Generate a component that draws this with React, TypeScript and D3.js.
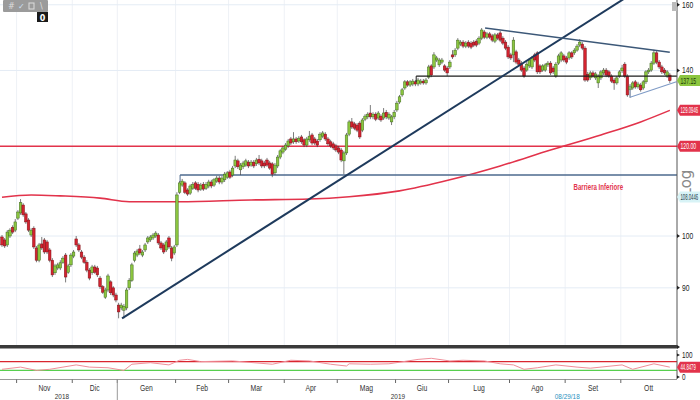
import React from 'react';
import * as d3 from 'd3';

const opens = [
  99.8, 99.2, 98.2, 100.0, 101.8, 101.2, 103.7, 104.8, 106.5, 104.6,
  103.3, 100.2, 101.6, 97.6, 95.2, 98.4, 99.2, 98.8, 97.2, 95.2,
  92.8, 93.7, 93.7, 94.8, 96.2, 92.9, 94.3, 96.0, 99.4, 98.2,
  96.8, 95.8, 94.8, 93.3, 92.8, 93.9, 93.7, 91.8, 90.2, 88.3,
  89.6, 91.1, 90.0, 88.7, 86.9, 86.4, 86.0, 86.4, 90.0, 91.4,
  95.2, 96.2, 97.4, 96.2, 97.2, 98.8, 99.2, 99.6, 100.0, 100.2,
  98.6, 98.2, 97.2, 99.6, 97.6, 96.6, 98.2, 109.3, 110.9, 111.4,
  109.8, 109.1, 110.2, 111.4, 111.1, 110.0, 111.1, 110.2, 110.7, 111.6,
  110.9, 111.8, 112.5, 111.6, 112.1, 112.7, 113.9, 113.2, 115.3, 116.5,
  114.4, 115.1, 115.5, 116.2, 115.5, 116.2, 115.8, 116.9, 116.5, 116.0,
  116.7, 116.0, 115.8, 113.7, 115.3, 117.4, 118.6, 119.3, 120.1, 121.8,
  121.1, 121.8, 121.3, 122.3, 121.6, 120.3, 121.6, 122.8, 121.8, 121.3,
  121.6, 122.5, 123.0, 121.8, 121.1, 120.6, 120.1, 119.6, 119.1, 116.5,
  118.4, 123.0, 126.1, 125.6, 125.3, 125.8, 124.0, 126.8, 127.4, 128.4,
  127.4, 128.1, 127.1, 127.6, 127.1, 128.6, 127.1, 126.1, 127.4, 129.2,
  131.3, 133.2, 135.1, 136.8, 135.9, 136.2, 136.8, 136.2, 136.5, 137.0,
  136.5, 138.1, 141.3, 141.0, 143.0, 141.6, 142.4, 141.3, 140.7, 141.0,
  144.5, 144.5, 146.5, 147.7, 148.3, 147.1, 148.3, 148.0, 148.3, 148.6,
  148.0, 149.5, 151.4, 149.8, 150.8, 150.2, 148.6, 150.5, 151.1, 149.5,
  148.3, 146.8, 144.5, 144.5, 145.4, 143.0, 142.1, 140.7, 140.1, 141.3,
  141.0, 144.5, 145.1, 141.3, 140.1, 140.1, 141.6, 142.1, 140.7, 138.4,
  142.1, 143.0, 144.2, 143.6, 143.6, 145.1, 145.1, 145.9, 147.4, 147.7,
  146.5, 138.9, 137.9, 139.3, 137.9, 136.5, 137.9, 139.3, 140.1, 139.6,
  138.4, 137.3, 136.5, 138.4, 139.9, 141.8, 138.4, 134.6, 135.1, 136.8,
  135.4, 135.9, 135.1, 136.8, 139.6, 140.1, 142.1, 145.1, 142.4, 141.0,
  140.1, 138.4, 138.7,
];

const closes = [
  98.2, 98.0, 100.8, 101.2, 100.8, 102.9, 105.0, 107.0, 104.4, 102.9,
  101.2, 101.2, 97.8, 95.2, 98.2, 97.6, 96.8, 96.8, 95.2, 92.4,
  94.1, 94.3, 94.7, 95.6, 92.0, 94.1, 96.2, 96.8, 98.2, 97.2,
  95.8, 94.8, 93.3, 91.8, 93.9, 92.9, 92.4, 90.2, 89.2, 89.6,
  92.2, 89.1, 88.7, 87.8, 85.7, 86.9, 86.7, 89.6, 91.4, 94.3,
  96.6, 97.0, 96.6, 96.8, 98.2, 99.6, 99.8, 100.2, 100.6, 98.6,
  97.6, 96.8, 98.8, 97.8, 95.6, 97.8, 108.7, 111.4, 111.8, 109.3,
  108.9, 110.7, 111.1, 110.2, 109.8, 110.9, 110.0, 111.1, 111.6, 110.7,
  112.1, 112.5, 111.6, 112.5, 113.4, 113.7, 112.7, 114.8, 116.7, 115.1,
  115.5, 116.0, 116.5, 115.3, 116.2, 115.3, 116.7, 116.0, 115.3, 115.3,
  115.5, 114.8, 113.4, 115.5, 117.4, 118.9, 119.6, 120.3, 121.3, 120.8,
  121.8, 121.1, 122.0, 121.1, 120.3, 121.8, 122.5, 120.8, 120.8, 120.3,
  123.0, 123.3, 121.8, 120.6, 120.1, 119.6, 119.1, 118.6, 116.7, 118.4,
  122.8, 126.1, 124.8, 124.5, 124.0, 122.3, 126.6, 127.6, 128.1, 127.4,
  128.1, 126.8, 128.4, 126.6, 128.4, 127.4, 128.1, 127.4, 128.6, 131.0,
  132.7, 134.6, 136.8, 135.9, 136.8, 137.0, 136.2, 137.3, 137.0, 136.5,
  137.3, 141.0, 138.7, 144.5, 143.6, 143.0, 143.0, 140.1, 139.3, 142.4,
  143.9, 145.9, 148.9, 148.3, 147.1, 148.0, 147.1, 146.8, 147.4, 147.4,
  149.5, 152.0, 149.8, 150.8, 149.8, 148.9, 150.5, 149.5, 148.9, 148.0,
  146.5, 143.9, 143.6, 148.9, 142.4, 141.8, 140.1, 138.4, 141.8, 143.0,
  143.6, 143.0, 139.6, 139.6, 141.3, 141.6, 142.1, 139.3, 139.6, 141.8,
  144.2, 145.1, 143.0, 142.4, 145.1, 143.9, 145.9, 147.1, 148.3, 146.5,
  137.3, 137.3, 139.3, 138.4, 139.0, 138.4, 139.6, 140.1, 138.7, 138.4,
  137.0, 136.5, 137.9, 139.6, 140.7, 138.4, 133.2, 135.6, 136.5, 135.4,
  136.2, 134.6, 136.8, 139.6, 140.1, 142.1, 145.1, 142.4, 141.0, 139.6,
  139.3, 139.6, 137.15,
];

const highs = [
  100.2, 99.6, 101.2, 101.6, 102.2, 103.5, 105.4, 107.8, 106.9, 105.0,
  103.7, 101.6, 102.0, 98.0, 98.6, 99.8, 99.6, 99.2, 97.6, 95.6,
  94.5, 94.7, 95.2, 96.0, 96.6, 94.5, 96.6, 97.2, 100.0, 98.6,
  97.2, 96.2, 95.2, 93.7, 94.3, 94.3, 94.1, 92.2, 90.5, 90.0,
  92.6, 91.4, 90.3, 89.1, 87.3, 87.3, 87.1, 90.0, 91.8, 94.7,
  97.0, 97.4, 98.2, 97.2, 98.6, 100.0, 100.2, 100.6, 101.0, 100.6,
  99.0, 98.6, 99.2, 100.0, 98.0, 98.2, 109.3, 111.8, 112.3, 111.8,
  110.2, 111.1, 111.6, 111.8, 111.6, 111.4, 111.6, 111.6, 112.1, 112.1,
  112.5, 113.0, 113.0, 113.0, 113.9, 114.1, 114.4, 115.3, 117.7, 117.0,
  116.0, 116.5, 117.0, 116.7, 116.7, 116.7, 117.2, 117.9, 117.0, 116.5,
  117.2, 116.5, 116.2, 116.0, 117.9, 119.3, 120.1, 120.8, 121.8, 122.3,
  123.5, 122.3, 122.5, 122.8, 122.0, 122.3, 123.8, 123.3, 122.3, 121.8,
  123.5, 123.8, 123.5, 122.3, 121.6, 121.1, 120.6, 120.1, 119.6, 118.9,
  123.3, 126.6, 127.1, 126.1, 125.8, 126.3, 127.1, 128.1, 128.6, 130.5,
  128.6, 128.6, 128.9, 128.1, 129.7, 129.2, 128.6, 127.9, 129.2, 131.6,
  133.2, 135.1, 137.3, 137.3, 137.3, 137.6, 137.3, 137.9, 137.6, 137.6,
  137.9, 141.6, 141.8, 145.3, 144.2, 143.6, 143.6, 141.8, 141.3, 143.0,
  145.9, 146.5, 149.5, 148.9, 148.9, 148.6, 148.9, 148.6, 148.9, 149.2,
  150.1, 152.6, 152.0, 151.4, 151.4, 150.8, 151.1, 151.1, 151.7, 150.1,
  148.9, 147.4, 145.1, 149.8, 146.0, 143.6, 142.7, 141.3, 142.4, 143.6,
  144.2, 145.1, 145.6, 141.8, 141.8, 142.1, 142.7, 142.7, 141.3, 142.4,
  144.8, 145.6, 144.8, 144.2, 145.6, 145.6, 146.5, 147.7, 149.2, 148.3,
  147.1, 139.6, 139.9, 139.9, 139.6, 138.9, 140.1, 140.7, 140.7, 140.1,
  138.9, 137.9, 138.4, 140.1, 141.6, 142.4, 138.9, 136.2, 137.0, 137.3,
  136.8, 136.5, 137.3, 140.1, 140.7, 142.7, 146.0, 145.6, 143.0, 141.6,
  140.7, 140.1, 139.3,
];

const lows = [
  97.8, 97.6, 97.8, 99.6, 100.4, 100.8, 103.3, 104.4, 104.0, 102.5,
  100.8, 99.8, 97.4, 94.8, 94.8, 97.2, 96.4, 96.4, 94.8, 92.0,
  92.4, 93.3, 93.3, 94.5, 91.0, 92.6, 93.9, 95.6, 97.8, 96.8,
  95.4, 94.5, 92.9, 91.4, 92.4, 92.6, 92.0, 89.8, 88.9, 88.0,
  89.2, 88.7, 88.3, 87.4, 84.6, 86.0, 84.6, 86.0, 89.6, 91.1,
  94.8, 95.8, 96.2, 95.8, 96.8, 98.4, 98.8, 99.2, 99.6, 98.2,
  97.2, 96.4, 96.8, 97.4, 95.0, 96.2, 97.8, 108.9, 110.5, 108.9,
  108.5, 108.7, 109.8, 109.8, 109.3, 109.6, 109.6, 109.8, 110.2, 110.2,
  110.5, 111.4, 111.1, 111.1, 111.6, 112.3, 112.3, 112.7, 114.8, 114.6,
  113.2, 114.6, 115.1, 114.8, 115.1, 114.8, 115.3, 115.5, 114.8, 114.8,
  115.1, 114.4, 112.7, 113.2, 114.8, 116.9, 118.1, 118.9, 119.6, 120.3,
  120.6, 120.6, 120.8, 120.6, 119.8, 119.8, 121.1, 120.3, 120.3, 119.8,
  121.1, 122.0, 121.3, 120.1, 119.6, 119.1, 118.6, 118.1, 116.2, 113.4,
  117.9, 122.5, 124.3, 124.0, 123.5, 121.8, 123.5, 126.3, 126.8, 126.8,
  126.8, 126.3, 126.6, 126.1, 126.6, 126.8, 126.6, 125.3, 126.8, 128.7,
  130.8, 132.7, 134.6, 135.4, 135.4, 135.6, 135.6, 135.6, 136.0, 136.0,
  136.0, 137.6, 138.1, 140.4, 142.4, 141.0, 141.8, 139.6, 138.4, 140.4,
  143.3, 143.9, 145.9, 147.1, 146.5, 146.5, 146.5, 146.2, 146.8, 146.8,
  147.4, 148.9, 149.2, 149.2, 149.2, 148.3, 148.0, 148.9, 148.3, 147.4,
  145.9, 143.3, 143.0, 142.4, 141.8, 141.3, 139.6, 137.9, 139.6, 140.7,
  140.4, 142.4, 139.0, 139.0, 139.6, 139.6, 141.0, 138.7, 139.0, 137.9,
  141.6, 142.4, 142.4, 141.8, 143.0, 143.3, 144.5, 145.4, 146.8, 145.9,
  136.8, 136.8, 137.3, 137.9, 137.3, 135.1, 137.3, 138.7, 138.1, 137.9,
  136.5, 134.6, 136.0, 137.9, 139.3, 137.9, 132.7, 132.4, 134.6, 134.9,
  134.9, 134.1, 134.6, 136.2, 139.0, 139.6, 141.6, 141.8, 140.4, 139.0,
  138.7, 137.9, 136.5,
];

const monthLabels = ['Nov', 'Dic', 'Gen', 'Feb', 'Mar', 'Apr', 'Mag', 'Giu', 'Lug', 'Ago', 'Set', 'Ott'];
const monthStarts = [6, 27, 44, 66, 86, 107, 127, 149, 169, 192, 213, 234, 255];
const yearLabels = ['2018', '2019'];
const yearLabelIdx = [22.6, 149.4];
const yearBreakIdx = 44;
const cursorDate = '08/29/18';
const cursorIdx = 213.3;

const priceTicks = [160, 140, 100, 90];
const gridLevels = [160, 140, 100, 90];

const maIdx = [0, 11, 22, 37, 48, 67, 94, 116, 131, 150, 169, 188, 207, 226, 241, 252];
const maVals = [108.2, 108.7, 108.5, 108.0, 107.2, 107.2, 107.6, 107.8, 108.3, 109.6, 112.1, 115.3, 119.1, 122.8, 126.1, 129.0946];

const rsiIdx = [0, 7, 13, 18, 28, 33, 40, 46, 49, 56, 63, 67, 70, 75, 87, 102, 109, 116, 124, 130, 131, 139, 146, 157, 162, 169, 174, 182, 188, 193, 197, 202, 209, 217, 222, 234, 238, 246, 252];
const rsiVals = [35, 45, 30, 35, 55, 45, 42, 30, 58, 65, 55, 76, 80, 70, 73, 58, 76, 73, 58, 50, 60, 58, 60, 80, 85, 73, 76, 73, 60, 55, 35, 42, 55, 45, 40, 55, 35, 60, 44.8479];
const rsiUpper = 70;
const rsiLower = 30;
const rsiTicks = [100, 0];

const upTrendIdx = [45.3, 240];
const upTrendVal = [84.6, 164.9];
const downTrendIdx = [182.3, 252];
const downTrendVal = [152.6, 145.3];
const lowerTrendIdx = [237, 254.5];
const lowerTrendVal = [132.6, 136.8];
const resistanceStart = 156.3;
const resistanceLevel = 138.4;
const supportStart = 67.2;
const supportLevel = 113.2;
const supportTickLow = 111.6;
const barrierLevel = 120;
const barrierText = 'Barriera Inferiore';
const barrierTextIdx = 225;
const barrierTextVal = 109.8;

const lastPrice = 137.15;
const maLast = 129.0946;
const bandValue = 108.0446;
const rsiLast = 44.8479;

const FONT = "'Liberation Sans',Arial,sans-serif";

export default function App() {
  const W = 700, H = 400;
  const axisX = 677;
  const x = d3.scaleLinear().domain([0, 252]).range([2, 669.8]);
  const y = d3.scaleLog().domain([90, 160]).range([287.84, 4.76]);
  const ry = d3.scaleLinear().domain([0, 100]).range([377, 355]);
  const n = Math.min(opens.length, closes.length, highs.length, lows.length);
  const cw = 2.6;

  const maLine = d3.line<number>().x((_, i) => x(maIdx[i])).y((v) => y(v)).curve(d3.curveMonotoneX);
  const rsiLine = d3.line<number>().x((_, i) => x(rsiIdx[i])).y((v) => ry(v));

  const priceBox = (text: string, fill: string, color: string, cy: number, key: string) => {
    const sx = text.length > 6 ? 0.5 : 0.6;
    return (
      <g key={key}>
        <path d={`M${axisX} ${cy} L${axisX + 3} ${cy - 5.5} L${W} ${cy - 5.5} L${W} ${cy + 5.5} L${axisX + 3} ${cy + 5.5} Z`} fill={fill} />
        <text transform={`translate(${axisX + 3.5},${cy + 3}) scale(${sx},1)`} fontSize={8.5} fill={color} fontFamily={FONT}>{text}</text>
      </g>
    );
  };

  const tickX = (idx: number) => x(idx) - 1.3;

  return (
    <svg width={W} height={H} style={{ position: 'fixed', left: 0, top: 0, background: '#fff' }}>
      <defs>
        <clipPath id="plot"><rect x={0} y={0} width={axisX} height={345} /></clipPath>
      </defs>
      <rect x={0} y={0} width={W} height={H} fill="#fff" />
      {monthStarts.slice(0, 12).map((m, i) => (
        <line key={'vg' + i} x1={tickX(m)} x2={tickX(m)} y1={0} y2={345} stroke="#eef1f6" strokeWidth={1} />
      ))}
      {gridLevels.map((g) => (
        <line key={'hg' + g} x1={0} x2={axisX} y1={y(g)} y2={y(g)} stroke="#e4ecf5" strokeWidth={1} />
      ))}

      <g clipPath="url(#plot)">
        <path d={maLine(maVals) || ''} fill="none" stroke="#e2334b" strokeWidth={1.6} />
        <line x1={0} x2={axisX} y1={y(barrierLevel)} y2={y(barrierLevel)} stroke="#e2334b" strokeWidth={1.5} />
        <line x1={x(supportStart)} x2={axisX} y1={y(supportLevel)} y2={y(supportLevel)} stroke="#4d6a8e" strokeWidth={1.5} />
        <line x1={x(supportStart)} x2={x(supportStart)} y1={y(supportLevel)} y2={y(supportTickLow)} stroke="#4d6a8e" strokeWidth={1} />
        {d3.range(n).map((i) => {
          const up = closes[i] >= opens[i];
          const cx = x(i);
          const top = y(Math.max(opens[i], closes[i]));
          const bot = y(Math.min(opens[i], closes[i]));
          return (
            <g key={'c' + i}>
              <line x1={cx} x2={cx} y1={y(highs[i])} y2={y(lows[i])} stroke="#444" strokeWidth={0.7} />
              <rect x={cx - cw / 2} y={top} width={cw} height={Math.max(0.8, bot - top)}
                fill={up ? '#8cc63f' : '#d3232f'} stroke={up ? '#3f6a1e' : '#7d1219'} strokeWidth={0.5} />
            </g>
          );
        })}
        <line x1={x(resistanceStart)} x2={axisX} y1={y(resistanceLevel)} y2={y(resistanceLevel)} stroke="#1c1c1c" strokeWidth={1.4} />
        <line x1={x(resistanceStart)} x2={x(resistanceStart)} y1={y(resistanceLevel)} y2={y(resistanceLevel) + 6} stroke="#1c1c1c" strokeWidth={1} />
        <line x1={x(upTrendIdx[0])} y1={y(upTrendVal[0])} x2={x(upTrendIdx[1])} y2={y(upTrendVal[1])} stroke="#1e3a5c" strokeWidth={2} />
        <line x1={x(downTrendIdx[0])} y1={y(downTrendVal[0])} x2={x(downTrendIdx[1])} y2={y(downTrendVal[1])} stroke="#3c5878" strokeWidth={1.5} />
        <line x1={x(lowerTrendIdx[0])} y1={y(lowerTrendVal[0])} x2={x(lowerTrendIdx[1])} y2={y(lowerTrendVal[1])} stroke="#7f9bc6" strokeWidth={1.1} />
        <line x1={x(lowerTrendIdx[0])} y1={y(lowerTrendVal[0])} x2={x(lowerTrendIdx[0])} y2={y(lowerTrendVal[0]) - 12} stroke="#7f9bc6" strokeWidth={0.8} />
        <text transform={`translate(${x(barrierTextIdx)},${y(barrierTextVal)}) scale(0.72,1)`} fontSize={8.5} fontWeight="bold" fill="#e2334b" textAnchor="middle" fontFamily={FONT}>{barrierText}</text>
      </g>

      <line x1={axisX} x2={axisX} y1={0} y2={346} stroke="#555" strokeWidth={1} />
      {priceTicks.map((t) => (
        <g key={'pt' + t}>
          <path d={`M${axisX} ${y(t) - 2} L${axisX + 3} ${y(t)} L${axisX} ${y(t) + 2} Z`} fill="#222" />
          <text transform={`translate(${axisX + 5},${y(t) + 3}) scale(0.75,1)`} fontSize={9} fill="#222" fontFamily={FONT}>{t}</text>
        </g>
      ))}
      <text x={691} y={183} fontSize={15} fill="#8a8a8a" fontFamily="'DejaVu Sans',sans-serif" textAnchor="middle" transform="rotate(-90 691 183)">Log</text>
      {priceBox(lastPrice.toFixed(2), '#8cc63f', '#1f3a0a', y(lastPrice), 'lp')}
      {priceBox(maLast.toFixed(4), '#e2334b', '#fff', y(maLast), 'ma')}
      {priceBox(barrierLevel.toFixed(2), '#e2334b', '#fff', y(barrierLevel), 'br')}
      {priceBox(bandValue.toFixed(4), '#d8f3f6', '#1d3c46', y(bandValue) - 1, 'bv')}
      <rect x={672} y={2} width={5} height={9} fill="#bbb" />

      <rect x={0} y={345} width={axisX} height={3.5} fill="#3a3a3a" />
      <path d={`M${axisX} 345 L${axisX + 3} 347 L${axisX} 349 Z`} fill="#222" />

      <line x1={0} x2={axisX} y1={ry(rsiUpper)} y2={ry(rsiUpper)} stroke="#d9262f" strokeWidth={1.2} />
      <line x1={0} x2={axisX} y1={ry(rsiLower)} y2={ry(rsiLower)} stroke="#57cf4f" strokeWidth={1.2} />
      <path d={rsiLine(rsiVals) || ''} fill="none" stroke="#f08f9a" strokeWidth={1} />
      <line x1={axisX} x2={axisX} y1={350} y2={379} stroke="#555" strokeWidth={1} />
      {rsiTicks.map((t) => (
        <g key={'rt' + t}>
          <path d={`M${axisX} ${ry(t) - 1.5} L${axisX + 3} ${ry(t)} L${axisX} ${ry(t) + 1.5} Z`} fill="#222" />
          <text transform={`translate(${axisX + 5},${ry(t) + 3}) scale(0.75,1)`} fontSize={8.5} fill="#222" fontFamily={FONT}>{t}</text>
        </g>
      ))}
      {priceBox(rsiLast.toFixed(4), '#e2334b', '#fff', ry(rsiLast), 'rsi')}

      <line x1={0} x2={axisX} y1={379.5} y2={379.5} stroke="#999" strokeWidth={1} />
      {monthStarts.slice(0, 12).map((m, i) => (
        <g key={'mt' + i}>
          <line x1={tickX(m)} x2={tickX(m)} y1={379.5} y2={383} stroke="#666" strokeWidth={1} />
          <text transform={`translate(${(tickX(m) + tickX(monthStarts[i + 1])) / 2},391) scale(0.8,1)`} fontSize={8.5} fill="#333" textAnchor="middle" fontFamily={FONT}>{monthLabels[i]}</text>
        </g>
      ))}
      <line x1={tickX(yearBreakIdx)} x2={tickX(yearBreakIdx)} y1={379.5} y2={400} stroke="#999" strokeWidth={1} />
      {yearLabels.map((yl, i) => (
        <text key={yl} transform={`translate(${x(yearLabelIdx[i])},399) scale(0.8,1)`} fontSize={8} fill="#333" textAnchor="middle" fontFamily={FONT}>{yl}</text>
      ))}
      <text transform={`translate(${x(cursorIdx)},399) scale(0.8,1)`} fontSize={8} fill="#2a8fc0" textAnchor="middle" fontFamily={FONT}>{cursorDate}</text>

      <rect x={3} y={0} width={45} height={12} fill="#9b9b9b" rx={1} />
      <text x={8} y={9} fontSize={8} fill="#ddd" fontFamily="'DejaVu Sans',sans-serif">#</text>
      <text x={18} y={9} fontSize={8} fill="#cfe0f5" fontFamily="'DejaVu Sans',sans-serif">✓</text>
      <rect x={29} y={3} width={5} height={6} fill="none" stroke="#ddd" strokeWidth={1} />
      <text x={40} y={9} fontSize={8} fill="#ddd" fontFamily="'DejaVu Sans',sans-serif">\</text>
      <rect x={37} y={12} width={11} height={10} fill="#1a1a1a" />
      <text x={42.5} y={20.5} fontSize={8} fontWeight="bold" fill="#fff" textAnchor="middle" fontFamily="'DejaVu Sans',sans-serif">0</text>
    </svg>
  );
}
